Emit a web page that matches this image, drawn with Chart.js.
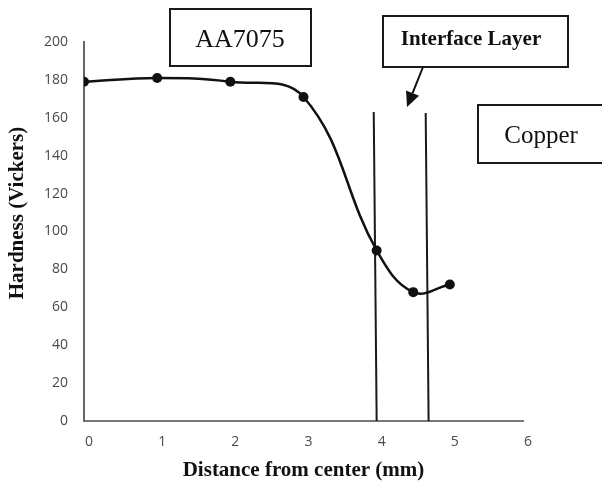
<!DOCTYPE html>
<html>
<head>
<meta charset="utf-8">
<script src="https://cdn.jsdelivr.net/npm/chart.js@4.4.1/dist/chart.umd.min.js"></script>
<style>
  html, body { margin: 0; padding: 0; background: #ffffff; }
  #wrap { width: 602px; height: 481px; position: relative; }
</style>
</head>
<body>
<div id="wrap"><canvas id="c" width="602" height="481"></canvas></div>
<script>
// ---- data ----
const distance = [0, 1, 2, 3, 4, 4.5, 5];
const hardness = [179, 181, 179, 171, 90, 68, 72];
const boundary1X = [3.96, 4.0];
const boundary1Y = [163, 0];
const boundary2X = [4.67, 4.71];
const boundary2Y = [162.5, 0];
const xTicks = [0, 1, 2, 3, 4, 5, 6];
const yTicks = [0, 20, 40, 60, 80, 100, 120, 140, 160, 180, 200];
const xTitle = 'Distance from center (mm)';
const yTitle = 'Hardness (Vickers)';
const labelAA = 'AA7075';
const labelInterface = 'Interface Layer';
const labelCopper = 'Copper';

const toPts = (xs, ys) => xs.map((x, i) => ({ x: x, y: ys[i] }));

const annotations = {
  id: 'annotations',
  afterDraw(chart) {
    const ctx = chart.ctx;
    ctx.save();
    // y-axis title (drawn slightly above the plot centre, as in the original)
    ctx.translate(17.5, 213);
    ctx.rotate(-Math.PI / 2);
    ctx.fillStyle = '#111111';
    ctx.textAlign = 'center';
    ctx.textBaseline = 'middle';
    ctx.font = 'bold 21px "Liberation Serif", serif';
    ctx.fillText(yTitle, 0, 0);
    ctx.restore();

    ctx.save();
    ctx.strokeStyle = '#1a1a1a';
    ctx.lineWidth = 2;
    function box(x, y, w, h) {
      ctx.fillStyle = '#ffffff';
      ctx.fillRect(x, y, w, h);
      ctx.strokeRect(x, y, w, h);
    }
    box(170, 9, 141, 57);
    box(383, 16, 185, 51);
    box(478, 105, 140, 58);
    ctx.fillStyle = '#111111';
    ctx.textAlign = 'center';
    ctx.textBaseline = 'alphabetic';
    ctx.font = '26px "Liberation Serif", serif';
    ctx.fillText(labelAA, 240, 47);
    ctx.font = 'bold 21px "Liberation Serif", serif';
    ctx.fillText(labelInterface, 471, 45);
    ctx.font = '25px "Liberation Serif", serif';
    ctx.fillText(labelCopper, 541, 143);
    // arrow
    const x0 = 423, y0 = 67, x1 = 407, y1 = 107;
    const ang = Math.atan2(y1 - y0, x1 - x0);
    const hl = 15, hw = 7;
    const bx = x1 - hl * Math.cos(ang), by = y1 - hl * Math.sin(ang);
    ctx.strokeStyle = '#111111';
    ctx.lineWidth = 2;
    ctx.beginPath();
    ctx.moveTo(x0, y0);
    ctx.lineTo(bx, by);
    ctx.stroke();
    ctx.beginPath();
    ctx.moveTo(x1, y1);
    ctx.lineTo(bx + hw * Math.sin(ang), by - hw * Math.cos(ang));
    ctx.lineTo(bx - hw * Math.sin(ang), by + hw * Math.cos(ang));
    ctx.closePath();
    ctx.fillStyle = '#111111';
    ctx.fill();
    ctx.restore();
  }
};

new Chart(document.getElementById('c'), {
  type: 'scatter',
  data: {
    datasets: [
      {
        data: toPts(distance, hardness),
        showLine: true,
        borderColor: '#111111',
        backgroundColor: '#111111',
        borderWidth: 2.5,
        pointRadius: 5,
        pointBorderWidth: 0,
        tension: 0.4,
        order: 0
      },
      {
        data: toPts(boundary1X, boundary1Y),
        showLine: true,
        borderColor: '#1a1a1a',
        borderWidth: 2,
        pointRadius: 0,
        tension: 0,
        order: 1
      },
      {
        data: toPts(boundary2X, boundary2Y),
        showLine: true,
        borderColor: '#1a1a1a',
        borderWidth: 2,
        pointRadius: 0,
        tension: 0,
        order: 1
      }
    ]
  },
  options: {
    responsive: false,
    animation: false,
    devicePixelRatio: 1,
    layout: { padding: { left: 0, right: 79, top: 42, bottom: 0 } },
    plugins: { legend: { display: false }, tooltip: { enabled: false } },
    scales: {
      x: {
        type: 'linear',
        min: 0,
        max: 6,
        afterBuildTicks(scale) { scale.ticks = xTicks.map(v => ({ value: v })); },
        afterFit(scale) { scale.height = 60; },
        grid: { display: false, drawTicks: false },
        border: { display: true, color: '#777777', width: 2 },
        ticks: {
          color: '#4a4a4a',
          font: { family: '"Open Sans", sans-serif', size: 14 },
          padding: 13,
          labelOffset: 5,
          maxRotation: 0
        },
        title: {
          display: true,
          text: xTitle,
          color: '#111111',
          font: { family: '"Liberation Serif", serif', size: 21, weight: 'bold', lineHeight: 1 },
          padding: { top: 0, bottom: 0 }
        }
      },
      y: {
        type: 'linear',
        min: 0,
        max: 200,
        afterBuildTicks(scale) { scale.ticks = yTicks.map(v => ({ value: v })); },
        afterFit(scale) { scale.width = 84; },
        grid: { display: false, drawTicks: false },
        border: { display: true, color: '#666666', width: 2 },
        ticks: {
          color: '#4a4a4a',
          font: { family: '"Open Sans", sans-serif', size: 14 },
          padding: 16
        },
        title: { display: false, text: yTitle }
      }
    }
  },
  plugins: [annotations]
});
</script>
</body>
</html>
